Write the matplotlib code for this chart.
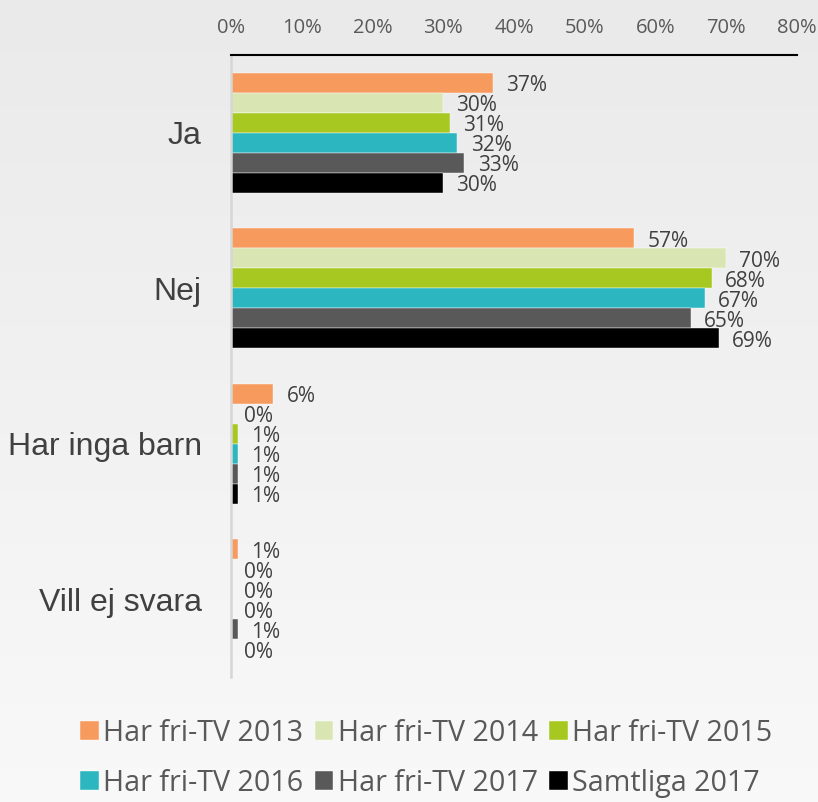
import matplotlib
import matplotlib.pyplot as plt
import numpy as np

matplotlib.use("Agg")

categories = ["Ja", "Nej", "Har inga barn", "Vill ej svara"]
series_names = [
    "Har fri-TV 2013",
    "Har fri-TV 2014",
    "Har fri-TV 2015",
    "Har fri-TV 2016",
    "Har fri-TV 2017",
    "Samtliga 2017",
]
values_2013 = [37, 57, 6, 1]
values_2014 = [30, 70, 0, 0]
values_2015 = [31, 68, 1, 0]
values_2016 = [32, 67, 1, 0]
values_2017 = [33, 65, 1, 1]
values_all_2017 = [30, 69, 1, 0]
series_values = [values_2013, values_2014, values_2015,
                 values_2016, values_2017, values_all_2017]
colors = ["#F79A5E", "#D9E6B3", "#A6C820", "#2CB6C0", "#595959", "#000000"]
x_ticks = [0, 10, 20, 30, 40, 50, 60, 70, 80]

fig = plt.figure(figsize=(8.18, 8.02), dpi=100)

# soft vertical gradient behind everything
bg = fig.add_axes([0, 0, 1, 1], zorder=-10)
grad = np.linspace(0, 1, 256).reshape(-1, 1)
top = np.array([0.918, 0.918, 0.918])
bottom = np.array([0.975, 0.975, 0.975])
img = top + (bottom - top) * grad[..., None]
bg.imshow(img, aspect="auto", extent=[0, 1, 0, 1])
bg.axis("off")

ax = fig.add_axes([0.2824, 0.156, 0.6919, 0.7754])
ax.patch.set_alpha(0)

bar_h = 0.1286
y = np.arange(len(categories))
n = len(series_values)
handles = []
for i, (name, vals, col) in enumerate(zip(series_names, series_values, colors)):
    pos = y + (i - (n - 1) / 2) * bar_h
    bars = ax.barh(pos, vals, height=bar_h, color=col, label=name,
                   edgecolor="white", linewidth=0.3)
    handles.append(bars)
    for p, v in zip(pos, vals):
        ax.annotate(f"{v}%", xy=(v, p), xytext=(9.5, -2.2), textcoords="offset points",
                    ha="left", va="center", fontsize=15, color="#404040",
                    family="Open Sans")

ax.set_xlim(0, 80)
ax.set_ylim(len(categories) - 0.5, -0.5)
ax.xaxis.tick_top()
ax.set_xticks(x_ticks)
ax.set_xticklabels([f"{t}%" for t in x_ticks], fontsize=14.5, color="#595959",
                   family="Open Sans")
ax.tick_params(axis="x", length=0, pad=12)
ax.set_yticks(y)
ax.set_yticklabels(categories, fontsize=23, color="#404040", family="Liberation Sans")
ax.tick_params(axis="y", length=0, pad=21)

for side in ["right", "bottom"]:
    ax.spines[side].set_visible(False)
ax.spines["top"].set_color("black")
ax.spines["top"].set_linewidth(1.5)
ax.spines["left"].set_color("#d6d6d6")
ax.spines["left"].set_linewidth(1.8)

# legend fills column-wise, so interleave to read row by row
order = [0, 3, 1, 4, 2, 5]
leg = fig.legend([handles[k] for k in order], [series_names[k] for k in order],
                 loc="center", bbox_to_anchor=(0.521, 0.0545), ncol=3,
                 frameon=False, prop={"family": "Open Sans", "size": 20.6},
                 labelcolor="#595959", handlelength=0.65, handleheight=0.65,
                 handletextpad=0.15, columnspacing=0.4, labelspacing=0.72,
                 borderpad=0)

fig.savefig("out.png", dpi=100)
